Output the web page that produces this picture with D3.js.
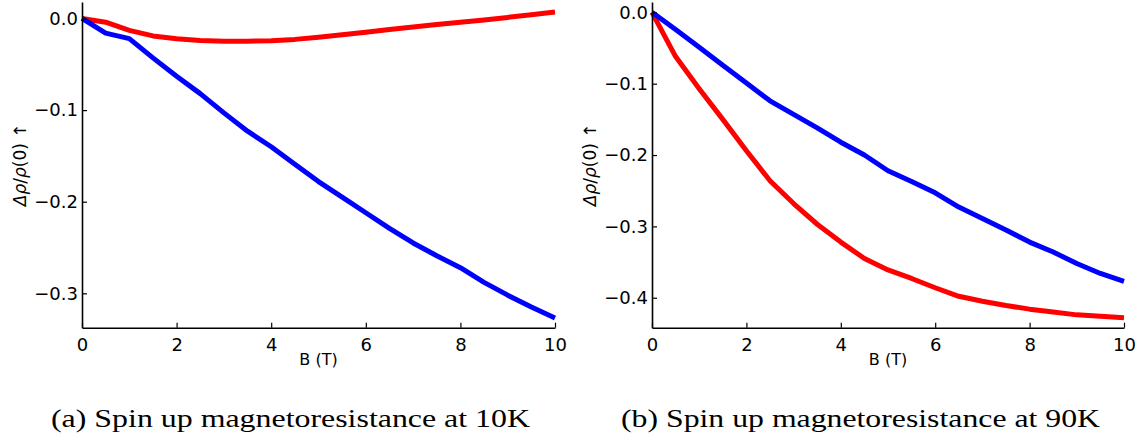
<!DOCTYPE html>
<html>
<head>
<meta charset="utf-8">
<script src="https://cdn.jsdelivr.net/npm/d3@7"></script>
<style>
  body { margin: 0; background: #fff; }
  svg { display: block; }
</style>
</head>
<body>
<script>
// magnetic field B (T), sampled every 0.5 T
const fieldB = [0, 0.5, 1, 1.5, 2, 2.5, 3, 3.5, 4, 4.5, 5, 5.5, 6, 6.5, 7, 7.5, 8, 8.5, 9, 9.5, 10];

// (a) 10K
const blue10K = [0, -0.016, -0.022, -0.043, -0.063, -0.082, -0.103, -0.123, -0.140, -0.159, -0.178,
  -0.195, -0.212, -0.229, -0.245, -0.259, -0.272, -0.288, -0.302, -0.315, -0.327];
const red10K = [0, -0.004, -0.013, -0.019, -0.022, -0.024, -0.0248, -0.0248, -0.0242, -0.0228, -0.0205,
  -0.0178, -0.015, -0.012, -0.0092, -0.0066, -0.0041, -0.0016, 0.0012, 0.0041, 0.0072];

// (b) 90K
const blue90K = [0, -0.024, -0.049, -0.074, -0.099, -0.124, -0.143, -0.162, -0.182, -0.200, -0.222,
  -0.237, -0.253, -0.273, -0.289, -0.305, -0.322, -0.336, -0.352, -0.366, -0.377];
const red90K = [0, -0.062, -0.107, -0.150, -0.194, -0.236, -0.268, -0.297, -0.322, -0.345, -0.361,
  -0.373, -0.386, -0.398, -0.405, -0.411, -0.416, -0.420, -0.424, -0.426, -0.428];

const xTicks = [0, 2, 4, 6, 8, 10];
const yTicksA = [0, -0.1, -0.2, -0.3];
const yTicksB = [0, -0.1, -0.2, -0.3, -0.4];
const captions = ["(a) Spin up magnetoresistance at 10K", "(b) Spin up magnetoresistance at 90K"];

const width = 1143, height = 439;
const svg = d3.select("body").append("svg").attr("width", width).attr("height", height);

const panels = [
  {left: 82, right: 555, yDomain: [-0.3375, 0.018], yTicks: yTicksA, series: [red10K, blue10K], labelX: 20, caption: captions[0], capX: 51},
  {left: 652, right: 1124, yDomain: [-0.442, 0.0145], yTicks: yTicksB, series: [red90K, blue90K], labelX: 590, caption: captions[1], capX: 621}
];
const plotTop = 2, plotBottom = 327.7;
const colors = ["#ff0000", "#0000ff"];
const fmt = d => d3.format(".1f")(d).replace("-", "\u2212");

panels.forEach(p => {
  const x = d3.scaleLinear().domain([0, 10]).range([p.left, p.right]);
  const y = d3.scaleLinear().domain(p.yDomain).range([plotBottom, plotTop]);
  const g = svg.append("g");

  // lines
  const line = d3.line().x((d, i) => x(fieldB[i])).y(d => y(d));
  p.series.forEach((s, k) => {
    g.append("path")
      .datum(s)
      .attr("fill", "none")
      .attr("stroke", colors[k])
      .attr("stroke-width", 5)
      .attr("stroke-linejoin", "round")
      .attr("d", line);
  });

  // axes, ticks pointing inward like matplotlib
  const xAxis = g.append("g")
    .attr("transform", `translate(0,${plotBottom})`)
    .call(d3.axisBottom(x).tickValues(xTicks).tickSizeInner(-5).tickSizeOuter(0).tickPadding(6).tickFormat(d3.format("d")));
  const yAxis = g.append("g")
    .attr("transform", `translate(${p.left},0)`)
    .call(d3.axisLeft(y).tickValues(p.yTicks).tickSizeInner(-5).tickSizeOuter(0).tickPadding(4).tickFormat(fmt));
  [xAxis, yAxis].forEach(a => {
    a.select(".domain").attr("stroke", "#000").attr("stroke-width", 1.6);
    a.selectAll(".tick line").attr("stroke", "#000").attr("stroke-width", 1.2);
    a.selectAll(".tick text")
      .attr("fill", "#000")
      .style("font-family", "'DejaVu Sans', sans-serif")
      .style("font-size", "18px");
  });
  xAxis.selectAll(".tick text").attr("y", 6).attr("dy", "0.95em");
  yAxis.selectAll(".tick text").attr("x", -4);

  // axis labels
  g.append("text")
    .attr("x", (p.left + p.right) / 2)
    .attr("y", 365)
    .attr("text-anchor", "middle")
    .style("font-family", "'DejaVu Sans', sans-serif")
    .style("font-size", "16px")
    .text("B (T)");

  const yl = g.append("text")
    .attr("transform", `translate(${p.labelX + 6},${(plotTop + plotBottom) / 2}) rotate(-90)`)
    .attr("text-anchor", "middle")
    .style("font-family", "'DejaVu Sans', sans-serif")
    .style("font-size", "17px");
  yl.append("tspan").style("font-style", "italic").text("\u0394\u03c1");
  yl.append("tspan").text("/");
  yl.append("tspan").style("font-style", "italic").text("\u03c1");
  yl.append("tspan").text("(0) \u2191");

  // caption
  svg.append("text")
    .attr("x", p.capX)
    .attr("y", 427)
    .attr("textLength", 479)
    .attr("lengthAdjust", "spacingAndGlyphs")
    .style("font-family", "'Liberation Serif', 'DejaVu Serif', serif")
    .style("font-size", "26px")
    .text(p.caption);
});
</script>
</body>
</html>
